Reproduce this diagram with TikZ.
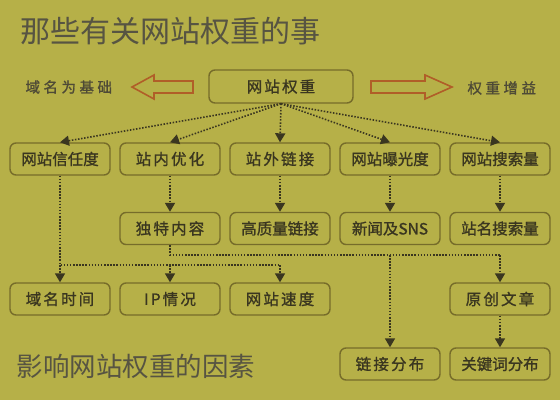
\documentclass[tikz,border=0pt]{standalone}
\usepackage{fontspec}
\setmainfont{Noto Sans CJK SC}
\newfontfamily\cjkbox[FakeBold=1.2]{Noto Sans CJK SC}
\newfontfamily\cjkwide[LetterSpace=24,FakeBold=1.2]{Noto Sans CJK SC}
\newfontfamily\cjkfour[LetterSpace=14,FakeBold=1.2]{Noto Sans CJK SC}
\usetikzlibrary{arrows.meta}

\definecolor{paper}{RGB}{182,176,72}
\definecolor{ink}{RGB}{58,54,32}
\definecolor{rim}{RGB}{118,108,42}
\definecolor{rust}{RGB}{176,94,40}

\begin{document}
\begin{tikzpicture}[x=1pt,y=-1pt,
	item/.style={draw=rim,line width=1.4pt,rounded corners=6pt,minimum width=100pt,minimum height=32pt,inner sep=0pt,text=ink,font=\cjkbox\fontsize{15.5}{16}\selectfont},
	wide/.style={item,font=\cjkfour\fontsize{15.5}{16}\selectfont},
	side/.style={text=ink!90,font=\cjkwide\fontsize{14.5}{15}\selectfont},
	dots/.style={draw=ink,line width=1.6pt,dash pattern=on 1.5pt off 1.6pt},
	link/.style={dots,-{Triangle[width=10pt,length=9pt]}},
	hollow/.style={draw=rust,line width=1.6pt,line join=miter}]
	\fill[paper] (0,0) rectangle (560,400);
	\useasboundingbox (0,0) rectangle (560,400);
	
	\node[anchor=west,text=ink!85,font=\fontsize{30}{30}\selectfont] (title) at (17,31) {那些有关网站权重的事};
	\node[anchor=west,text=ink!85,font=\fontsize{26.5}{27}\selectfont] (factors) at (13,366) {影响网站权重的因素};
	
	\node[item,minimum width=144pt,minimum height=33pt,font=\cjkfour\fontsize{15.5}{16}\selectfont] (weight) at (281,86.5) {网站权重};
	\node[side,anchor=west] (base) at (22,87) {域名为基础};
	\node[side,anchor=west] (gain) at (464,88) {权重增益};
	\draw[hollow] (132,87) -- (154,75) -- (154,81) -- (193,81) -- (193,93) -- (154,93) -- (154,99) -- cycle;
	\draw[hollow] (371,81) -- (425,81) -- (425,75) -- (452,87) -- (425,99) -- (425,93) -- (371,93) -- cycle;
	
	% first row
	\node[item] (trust) at (60,159) {网站信任度};
	\node[wide] (onpage) at (170,159) {站内优化};
	\node[wide] (offpage) at (280,159) {站外链接};
	\node[item] (expose) at (390,159) {网站曝光度};
	\node[item] (search) at (500,159) {网站搜索量};
	
	% second row
	\node[wide] (unique) at (170,228.5) {独特内容};
	\node[item] (quality) at (280,228.5) {高质量链接};
	\node[item] (news) at (390,228.5) {新闻及SNS};
	\node[item] (sitename) at (500,228.5) {站名搜索量};
	
	% third row
	\node[wide] (age) at (60,299) {域名时间};
	\node[wide] (ip) at (170,299) {IP情况};
	\node[wide] (speed) at (280,299) {网站速度};
	\node[wide] (original) at (500,299) {原创文章};
	
	% fourth row
	\node[wide] (linkdist) at (390,364) {链接分布};
	\node[item] (keyword) at (500,364) {关键词分布};
	
	\foreach \n in {trust,onpage,offpage,expose,search}
		\draw[link] (weight.south) -- (\n.north);
	\draw[link] (onpage) -- (unique);
	\draw[link] (offpage) -- (quality);
	\draw[link] (expose) -- (news);
	\draw[link] (search) -- (sitename);
	
	\coordinate (busA) at (0,265);
	\coordinate (busB) at (0,255);
	\draw[dots] (trust.south) -- (trust.south |- busA) -- (speed.north |- busA);
	\foreach \n in {age,ip,speed}
		\draw[link] (\n.north |- busA) -- (\n.north);
	\draw[dots] (unique.south) -- (unique.south |- busB) -- (original.north |- busB);
	\foreach \n in {linkdist,original}
		\draw[link] (\n.north |- busB) -- (\n.north);
	\draw[link] (original) -- (keyword);
\end{tikzpicture}
\end{document}
